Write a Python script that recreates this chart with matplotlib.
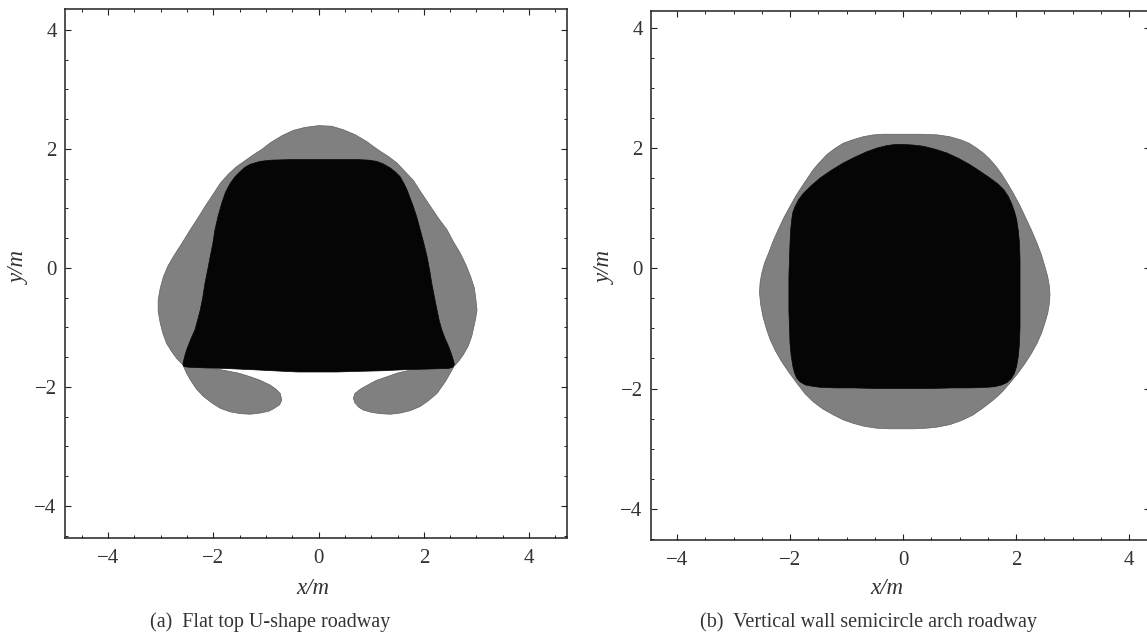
import matplotlib
matplotlib.use("Agg")
import matplotlib.pyplot as plt
from matplotlib.patches import Polygon
from matplotlib.ticker import MultipleLocator

W, H = 1147, 641

# ---- (a) flat top U-shape roadway: plastic zone (gray) ----
a_zone_x = [0.00, 0.25, 0.47, 0.69, 0.92, 1.04, 1.17, 1.33, 1.49, 1.64, 1.80, 1.96,
            2.12, 2.28, 2.44, 2.56, 2.69, 2.80, 2.89, 2.96, 2.99, 3.01, 2.98, 2.91,
            2.84, 2.75, 2.66, 2.57, 2.50, 2.41, 2.25, 2.09, 1.93, 1.74, 1.55, 1.36,
            1.17, 1.01, 0.85, 0.76, 0.69, 0.66, 0.69, 0.79, 0.95, 1.10, 1.30, 1.49,
            1.68, 1.87, 2.20, 1.50, -1.50,
            -2.13, -1.94, -1.75, -1.52, -1.30, -1.11, -0.92, -0.81, -0.73, -0.70,
            -0.74, -0.86, -0.95, -1.11, -1.30, -1.49, -1.68, -1.87, -2.03, -2.19,
            -2.32, -2.44, -2.51, -2.58, -2.70, -2.79, -2.89, -2.96, -3.01, -3.05,
            -3.05, -3.01, -2.95, -2.87, -2.76, -2.60, -2.44, -2.30, -2.16, -2.01,
            -1.87, -1.71, -1.56, -1.40, -1.24, -1.08, -0.92, -0.70, -0.48, -0.26]
a_zone_y = [2.39, 2.38, 2.32, 2.24, 2.12, 2.04, 1.96, 1.87, 1.76, 1.62, 1.47, 1.25,
            1.04, 0.83, 0.64, 0.44, 0.25, 0.05, -0.15, -0.34, -0.54, -0.71, -0.87, -1.15,
            -1.32, -1.46, -1.57, -1.66, -1.77, -1.91, -2.11, -2.23, -2.33, -2.40, -2.44, -2.46,
            -2.45, -2.43, -2.39, -2.34, -2.27, -2.19, -2.11, -2.04, -1.96, -1.89, -1.83, -1.77,
            -1.73, -1.69, -1.68, -1.40, -1.40,
            -1.69, -1.70, -1.73, -1.77, -1.83, -1.89, -1.97, -2.04, -2.11, -2.22,
            -2.30, -2.37, -2.41, -2.44, -2.46, -2.45, -2.42, -2.36, -2.27, -2.16,
            -2.04, -1.88, -1.77, -1.63, -1.52, -1.41, -1.27, -1.10, -0.93, -0.73,
            -0.54, -0.34, -0.15, 0.02, 0.19, 0.41, 0.64, 0.83, 1.03, 1.23,
            1.42, 1.58, 1.70, 1.80, 1.90, 1.99, 2.10, 2.22, 2.31, 2.36]

# ---- (a) roadway section (black) ----
a_road_x = [0.00, 0.40, 0.73, 0.95, 1.10, 1.22, 1.36, 1.46, 1.55, 1.62, 1.68, 1.74,
            1.80, 1.87, 1.93, 2.00, 2.06, 2.11, 2.15, 2.20, 2.25, 2.29, 2.34, 2.40,
            2.47, 2.52, 2.56, 2.58, 2.55, 2.47, 2.10, 1.68, 1.20, 0.73, 0.35, 0.00,
            -0.40, -0.86, -1.30, -1.81, -2.20, -2.47, -2.56, -2.58, -2.55, -2.51,
            -2.43, -2.35, -2.30, -2.25, -2.20, -2.16, -2.11, -2.06, -2.01, -1.97,
            -1.91, -1.84, -1.77, -1.68, -1.59, -1.49, -1.40, -1.30, -1.11, -0.90, -0.50]
a_road_y = [1.82, 1.82, 1.82, 1.81, 1.79, 1.75, 1.68, 1.61, 1.53, 1.42, 1.31, 1.17,
            1.03, 0.84, 0.64, 0.41, 0.19, -0.04, -0.26, -0.49, -0.71, -0.88, -1.04, -1.18,
            -1.32, -1.44, -1.55, -1.62, -1.67, -1.69, -1.70, -1.71, -1.73, -1.74, -1.75, -1.75,
            -1.75, -1.73, -1.71, -1.69, -1.68, -1.67, -1.66, -1.62, -1.50, -1.38,
            -1.20, -1.04, -0.88, -0.71, -0.49, -0.26, -0.04, 0.19, 0.41, 0.64,
            0.87, 1.09, 1.27, 1.42, 1.53, 1.62, 1.69, 1.74, 1.79, 1.81, 1.82]

# ---- (b) vertical wall semicircle arch roadway: plastic zone (gray) ----
b_zone_x = [0.00, 0.30, 0.60, 0.82, 1.01, 1.17, 1.30, 1.43, 1.54, 1.65, 1.75, 1.85,
            1.95, 2.06, 2.16, 2.27, 2.37, 2.45, 2.51, 2.56, 2.59, 2.60, 2.59, 2.56,
            2.51, 2.45, 2.37, 2.27, 2.16, 2.03, 1.89, 1.75, 1.60, 1.42, 1.24, 1.04,
            0.83, 0.62, 0.42, 0.20, 0.00, -0.24, -0.47, -0.68, -0.88, -1.06, -1.23,
            -1.42, -1.59, -1.74, -1.88, -2.02, -2.15, -2.26, -2.35, -2.42, -2.48,
            -2.52, -2.54, -2.53, -2.50, -2.45, -2.38, -2.30, -2.21, -2.11, -2.00,
            -1.90, -1.79, -1.69, -1.59, -1.47, -1.35, -1.21, -1.06, -0.88, -0.70,
            -0.52, -0.35, -0.17]
b_zone_y = [2.23, 2.23, 2.22, 2.19, 2.14, 2.08, 2.00, 1.91, 1.81, 1.69, 1.56, 1.41,
            1.25, 1.06, 0.86, 0.64, 0.42, 0.22, 0.03, -0.14, -0.30, -0.44, -0.58, -0.75,
            -0.91, -1.08, -1.25, -1.42, -1.58, -1.75, -1.91, -2.06, -2.19, -2.32, -2.44, -2.53,
            -2.60, -2.64, -2.66, -2.67, -2.67, -2.67, -2.66, -2.63, -2.58, -2.52, -2.44,
            -2.34, -2.22, -2.08, -1.91, -1.73, -1.55, -1.37, -1.19, -1.00, -0.80,
            -0.60, -0.41, -0.24, -0.08, 0.09, 0.25, 0.45, 0.64, 0.84, 1.03,
            1.20, 1.36, 1.50, 1.64, 1.77, 1.89, 1.99, 2.08, 2.14, 2.19,
            2.22, 2.23, 2.23]

# ---- (b) roadway section (black) ----
b_road_x = [0.00, 0.18, 0.36, 0.57, 0.77, 0.98, 1.19, 1.37, 1.54, 1.67, 1.78, 1.86,
            1.92, 1.97, 2.01, 2.04, 2.06, 2.07, 2.07, 2.07, 2.07, 2.07, 2.06, 2.04,
            2.01, 1.97, 1.92, 1.84, 1.75, 1.62, 1.48, 1.20, 0.89, 0.45, 0.00, -0.45,
            -0.88, -1.20, -1.47, -1.62, -1.73, -1.82, -1.88, -1.92, -1.95, -1.98,
            -2.00, -2.01, -2.02, -2.02, -2.02, -2.01, -2.00, -1.99, -1.97, -1.95,
            -1.91, -1.85, -1.76, -1.63, -1.47, -1.27, -1.06, -0.85, -0.64, -0.46,
            -0.29, -0.14]
b_road_y = [2.06, 2.05, 2.03, 1.98, 1.92, 1.83, 1.72, 1.61, 1.50, 1.41, 1.31, 1.20,
            1.08, 0.95, 0.81, 0.62, 0.42, 0.14, -0.14, -0.42, -0.69, -0.97, -1.25, -1.46,
            -1.63, -1.75, -1.83, -1.90, -1.94, -1.97, -1.98, -1.99, -1.99, -2.00, -2.00, -2.00,
            -1.99, -1.99, -1.98, -1.96, -1.94, -1.89, -1.83, -1.74, -1.63, -1.45,
            -1.25, -0.97, -0.69, -0.42, -0.14, 0.14, 0.42, 0.62, 0.81, 0.93,
            1.03, 1.14, 1.25, 1.37, 1.50, 1.63, 1.75, 1.85, 1.94, 2.00,
            2.04, 2.06]

major_ticks = [-4, -2, 0, 2, 4]

captions = ["(a)  Flat top U-shape roadway", "(b)  Vertical wall semicircle arch roadway"]

plt.rcParams['font.family'] = ['Liberation Serif', 'DejaVu Serif']
plt.rcParams['axes.unicode_minus'] = True

fig = plt.figure(figsize=(W / 100, H / 100), dpi=100)


def px_axes(left, top, right, bottom):
    return fig.add_axes([left / W, 1 - bottom / H, (right - left) / W, (bottom - top) / H])


def style(ax):
    ax.xaxis.set_major_locator(MultipleLocator(2))
    ax.yaxis.set_major_locator(MultipleLocator(2))
    ax.xaxis.set_minor_locator(MultipleLocator(0.5))
    ax.yaxis.set_minor_locator(MultipleLocator(0.5))
    ax.tick_params(which='both', direction='in', top=True, right=True,
                   colors='#222222', labelcolor='#333333', labelsize=15)
    ax.tick_params(which='major', length=4.5, width=0.8, pad=6)
    ax.tick_params(axis='x', which='major', pad=8)
    ax.tick_params(which='minor', length=2.2, width=0.7)
    for s in ax.spines.values():
        s.set_linewidth(1.1)
        s.set_color('#222222')


def draw(ax, zx, zy, rx, ry):
    ax.add_patch(Polygon(list(zip(zx, zy)), closed=True, facecolor='#808080',
                         edgecolor='#606060', linewidth=0.5, joinstyle='round', zorder=1))
    ax.add_patch(Polygon(list(zip(rx, ry)), closed=True, facecolor='#050505',
                         edgecolor='#050505', linewidth=0.5, joinstyle='round', zorder=2))


ax1 = px_axes(65, 9, 567, 538)
draw(ax1, a_zone_x, a_zone_y, a_road_x, a_road_y)
ax1.set_xlim(-4.82, 4.72)
ax1.set_ylim(-4.54, 4.35)
style(ax1)

ax2 = px_axes(651, 11, 1150, 540)
draw(ax2, b_zone_x, b_zone_y, b_road_x, b_road_y)
ax2.set_xlim(-4.46, 4.37)
ax2.set_ylim(-4.52, 4.28)
style(ax2)

for ax in (ax1, ax2):
    ax.set_xticks(major_ticks)
    ax.set_yticks(major_ticks)


def ftext(x, y, s, **kw):
    fig.text(x / W, 1 - y / H, s, ha='center', va='center', color='#333333', **kw)


ftext(313, 588, "x/m", fontsize=16.5, style='italic')
ftext(19, 268, "y/m", fontsize=16.5, style='italic', rotation=90)
ftext(887, 588, "x/m", fontsize=16.5, style='italic')
ftext(605, 268, "y/m", fontsize=16.5, style='italic', rotation=90)

ftext(270, 622, captions[0], fontsize=14.5)
ftext(869, 622, captions[1], fontsize=14.5)

fig.savefig("out.png", dpi=100)
